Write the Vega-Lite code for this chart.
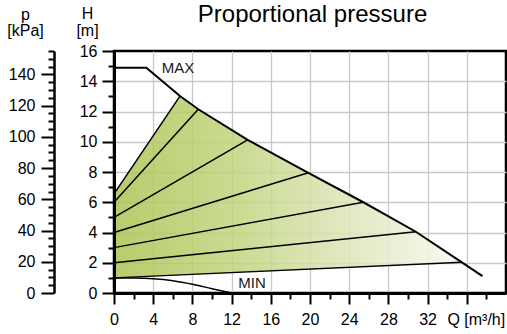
{
  "$schema": "https://vega.github.io/schema/vega-lite/v6.json",
  "width": 392,
  "height": 242,
  "autosize": {"type": "none"},
  "padding": {"left": 114, "top": 51, "right": 1, "bottom": 41},
  "config": {
    "font": "Liberation Sans",
    "view": {"stroke": "#000", "strokeWidth": 2.5},
    "axis": {"labelFont": "Liberation Sans", "titleFont": "Liberation Sans", "labelColor": "#000", "titleColor": "#000", "tickColor": "#000", "domainColor": "#000", "labelFlush": false, "labelOverlap": false}
  },
  "datasets": {
    "fill": [
      {"Q": 0, "top": 6.55, "bot": 1.0},
      {"Q": 6.73, "top": 13.02, "bot": 1.195},
      {"Q": 8.6, "top": 12.15, "bot": 1.249},
      {"Q": 13.64, "top": 10.12, "bot": 1.396},
      {"Q": 19.83, "top": 7.95, "bot": 1.575},
      {"Q": 25.44, "top": 6.0, "bot": 1.738},
      {"Q": 30.8, "top": 4.05, "bot": 1.893},
      {"Q": 35.5, "top": 2.03, "bot": 2.03}
    ],
    "prop": [
      {"id": "a", "Q": 0, "H": 6.55}, {"id": "a", "Q": 6.73, "H": 13.02},
      {"id": "b", "Q": 0, "H": 6.0}, {"id": "b", "Q": 8.6, "H": 12.15},
      {"id": "c", "Q": 0, "H": 5.0}, {"id": "c", "Q": 13.64, "H": 10.12},
      {"id": "d", "Q": 0, "H": 4.0}, {"id": "d", "Q": 19.83, "H": 7.95},
      {"id": "e", "Q": 0, "H": 3.0}, {"id": "e", "Q": 25.44, "H": 6.0},
      {"id": "f", "Q": 0, "H": 2.0}, {"id": "f", "Q": 30.8, "H": 4.05},
      {"id": "g", "Q": 0, "H": 1.0}, {"id": "g", "Q": 35.5, "H": 2.03}
    ],
    "max": [
      {"Q": 0, "H": 14.9}, {"Q": 3.3, "H": 14.9}, {"Q": 6.73, "H": 13.02}, {"Q": 8.6, "H": 12.15},
      {"Q": 13.64, "H": 10.12}, {"Q": 19.83, "H": 7.95}, {"Q": 25.44, "H": 6.0}, {"Q": 30.8, "H": 4.05},
      {"Q": 35.5, "H": 2.03}, {"Q": 37.6, "H": 1.12}
    ],
    "min": [
      {"Q": 0, "H": 1.0}, {"Q": 2, "H": 0.99}, {"Q": 4, "H": 0.94}, {"Q": 6, "H": 0.81},
      {"Q": 8, "H": 0.58}, {"Q": 10, "H": 0.28}, {"Q": 12, "H": 0.0}
    ],
    "labels": [
      {"Q": 4.87, "H": 14.85, "t": "MAX"},
      {"Q": 12.68, "H": 0.64, "t": "MIN"}
    ],
    "pres": [{"p": 0}, {"p": 155}]
  },
  "resolve": {"scale": {"y": "independent"}, "axis": {"x": "independent", "y": "independent"}},
  "layer": [
    {
      "data": {"name": "fill"},
      "mark": {"type": "area", "fillOpacity": 0.85, "color": {"gradient": "linear", "x1": 0, "y1": 0, "x2": 1, "y2": 0, "stops": [
        {"offset": 0, "color": "#aac452"},
        {"offset": 0.35, "color": "#c2d47e"},
        {"offset": 0.6, "color": "#d6e1ab"},
        {"offset": 0.85, "color": "#eaf0d6"},
        {"offset": 1, "color": "#f9faf1"}
      ]}},
      "encoding": {
        "x": {"field": "Q", "type": "quantitative", "scale": {"domain": [0, 40], "nice": false, "zero": false},
          "axis": {"orient": "bottom", "values": [4, 8, 12, 16, 20, 24, 28, 32, 36], "grid": true, "gridColor": "#c8c8c8", "gridWidth": 1.3, "ticks": false, "labels": false, "domain": false, "title": null, "zindex": 0}},
        "y": {"field": "top", "type": "quantitative", "scale": {"domain": [0, 16], "nice": false, "zero": false},
          "axis": {"orient": "left", "values": [2, 4, 6, 8, 10, 12, 14], "grid": true, "gridColor": "#c8c8c8", "gridWidth": 1.3, "ticks": false, "labels": false, "domain": false, "title": null, "zindex": 0}},
        "y2": {"field": "bot"}
      }
    },
    {
      "data": {"name": "prop"},
      "mark": {"type": "line", "color": "#000", "strokeWidth": 1.5},
      "encoding": {
        "detail": {"field": "id"},
        "x": {"field": "Q", "type": "quantitative", "scale": {"domain": [0, 40], "nice": false, "zero": false},
          "axis": {"orient": "bottom", "values": [0, 4, 8, 12, 16, 20, 24, 28, 32, 36], "tickSize": 11, "tickWidth": 2, "domainWidth": 3, "labelFontSize": 16, "labelPadding": 7,
            "labelExpr": "datum.value == 36 ? 'Q [m³/h]' : datum.label",
            "labelOffset": {"condition": {"test": "datum.value == 36", "value": 9}, "value": 0},
            "grid": false, "title": null, "zindex": 1}},
        "y": {"field": "H", "type": "quantitative", "scale": {"domain": [0, 16], "nice": false, "zero": false},
          "axis": {"orient": "left", "values": [0, 2, 4, 6, 8, 10, 12, 14, 16], "tickSize": 12, "tickWidth": 2, "domainWidth": 3, "labelFontSize": 16, "labelPadding": 5, "grid": false, "zindex": 1,
            "title": ["H", "[m]"], "titleAngle": 0, "titleAlign": "center", "titleBaseline": "alphabetic", "titleX": -27, "titleY": -33, "titleFontSize": 16, "titleFontWeight": "normal", "titleLineHeight": 17}}
      }
    },
    {
      "data": {"name": "max"},
      "mark": {"type": "line", "color": "#000", "strokeWidth": 2},
      "encoding": {
        "x": {"field": "Q", "type": "quantitative", "scale": {"domain": [0, 40], "nice": false, "zero": false},
          "axis": {"orient": "bottom", "values": [2, 6, 10, 14, 18, 22, 26, 30, 34, 38], "tickSize": 6, "tickWidth": 2, "labels": false, "domain": false, "grid": false, "title": null, "zindex": 1}},
        "y": {"field": "H", "type": "quantitative", "scale": {"domain": [0, 16], "nice": false, "zero": false},
          "axis": {"orient": "left", "values": [1, 3, 5, 7, 9, 11, 13, 15], "tickSize": 6, "tickWidth": 2, "labels": false, "domain": false, "grid": false, "title": null, "zindex": 1}}
      }
    },
    {
      "data": {"name": "min"},
      "mark": {"type": "line", "color": "#000", "strokeWidth": 1.5, "interpolate": "monotone"},
      "encoding": {
        "x": {"field": "Q", "type": "quantitative", "scale": {"domain": [0, 40], "nice": false, "zero": false},
          "axis": {"orient": "top", "values": [], "ticks": false, "labels": false, "domain": false, "grid": false, "zindex": 1,
            "title": "Proportional pressure", "titleFontSize": 24, "titleFontWeight": "normal", "titleAngle": 0, "titleAlign": "center", "titleBaseline": "alphabetic", "titleX": 198, "titleY": -30}},
        "y": {"field": "H", "type": "quantitative", "scale": {"domain": [0, 16], "nice": false, "zero": false}, "axis": null}
      }
    },
    {
      "data": {"name": "labels"},
      "mark": {"type": "text", "align": "left", "baseline": "middle", "fontSize": 15, "font": "Liberation Sans", "color": "#1a1a1a"},
      "encoding": {
        "x": {"field": "Q", "type": "quantitative", "scale": {"domain": [0, 40], "nice": false, "zero": false}, "axis": null},
        "y": {"field": "H", "type": "quantitative", "scale": {"domain": [0, 16], "nice": false, "zero": false}, "axis": null},
        "text": {"field": "t"}
      }
    },
    {
      "data": {"name": "pres"},
      "mark": {"type": "point", "opacity": 0},
      "encoding": {
        "y": {"field": "p", "type": "quantitative", "scale": {"domain": [0, 155], "nice": false, "zero": false},
          "axis": {"orient": "left", "offset": 60, "values": [0, 20, 40, 60, 80, 100, 120, 140], "tickSize": 13, "tickWidth": 2, "domainWidth": 2.5, "labelFontSize": 16, "labelPadding": 6, "grid": false, "zindex": 1,
            "title": ["p", "[kPa]"], "titleAngle": 0, "titleAlign": "center", "titleBaseline": "alphabetic", "titleX": -29, "titleY": -32, "titleFontSize": 16, "titleFontWeight": "normal", "titleLineHeight": 16}}
      }
    },
    {
      "data": {"name": "pres"},
      "mark": {"type": "point", "opacity": 0},
      "encoding": {
        "y": {"field": "p", "type": "quantitative", "scale": {"domain": [0, 155], "nice": false, "zero": false},
          "axis": {"orient": "left", "offset": 60, "values": [5, 10, 15, 25, 30, 35, 45, 50, 55, 65, 70, 75, 85, 90, 95, 105, 110, 115, 125, 130, 135, 145, 150, 155], "tickSize": 6, "tickWidth": 2, "labels": false, "domain": false, "grid": false, "title": null, "zindex": 1}}
      }
    }
  ]
}
